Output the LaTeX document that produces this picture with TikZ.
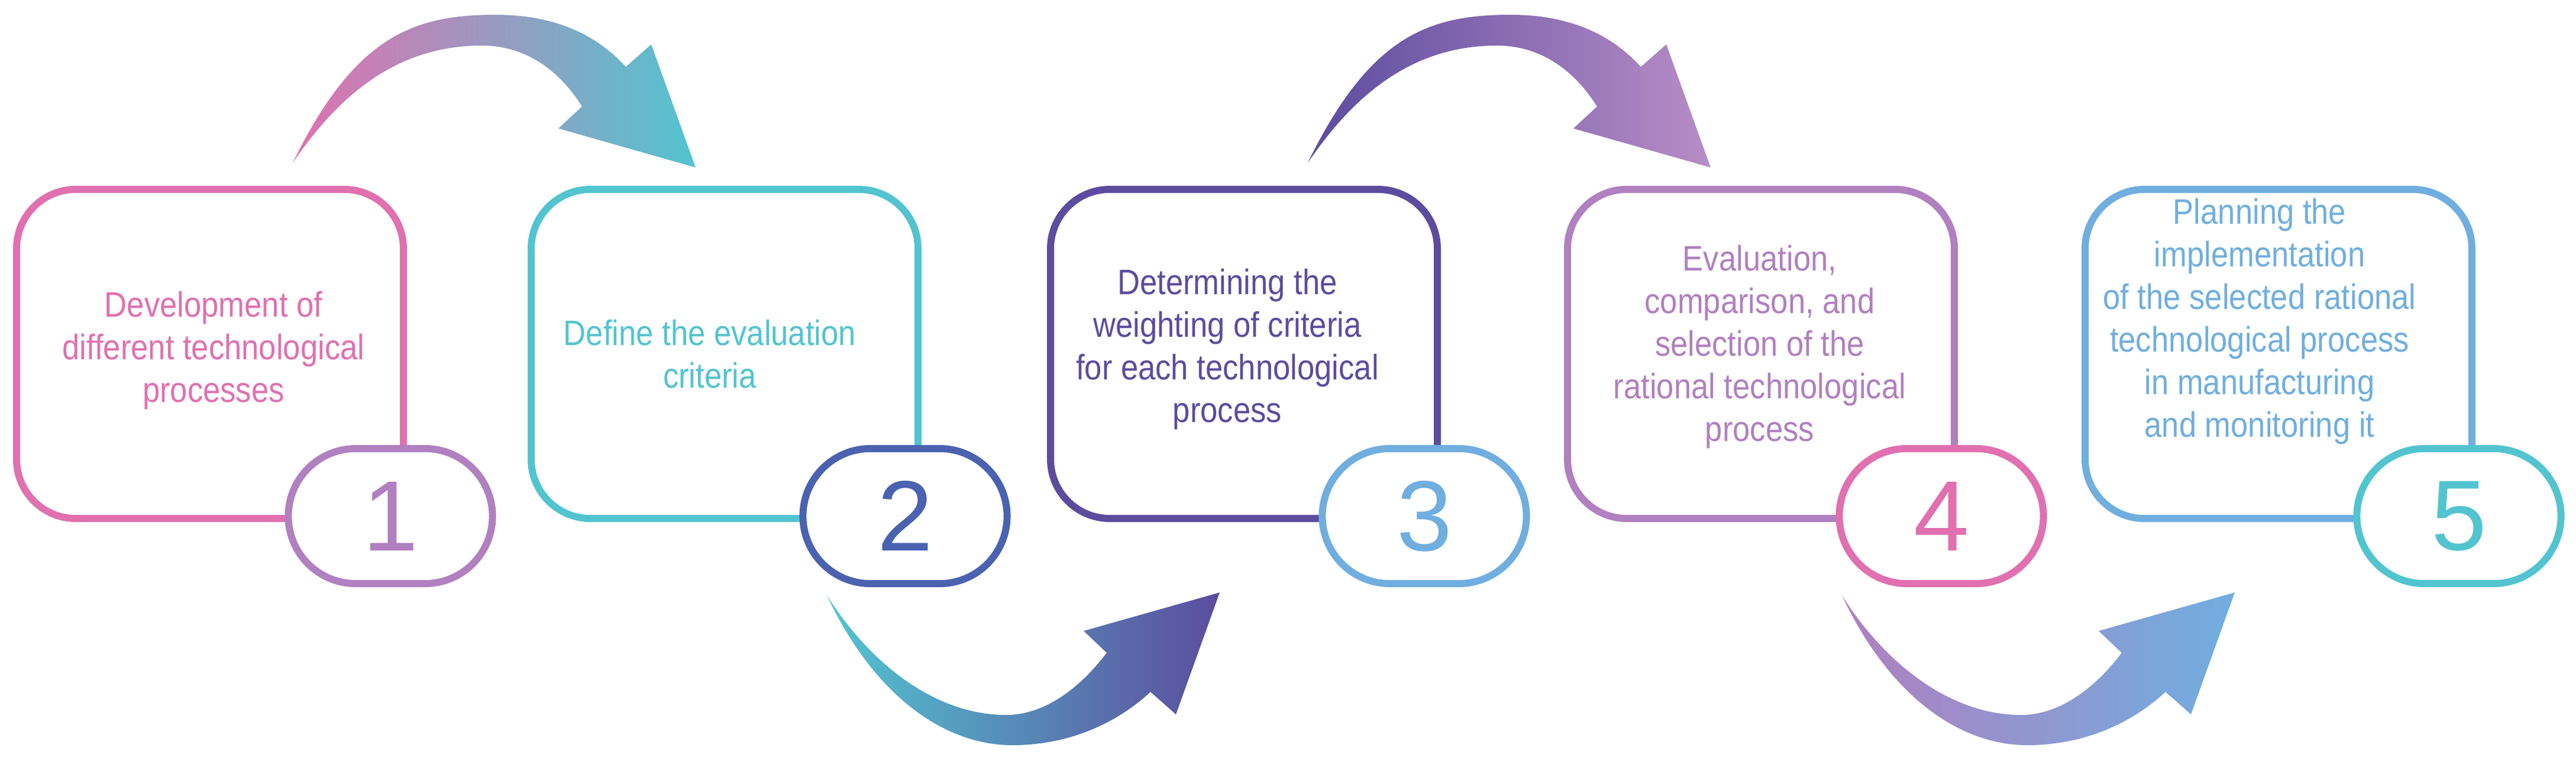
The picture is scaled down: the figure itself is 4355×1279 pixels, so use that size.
\documentclass[tikz,border=0pt]{standalone}
\usepackage{fontspec}
\setmainfont{Liberation Sans}[FakeStretch=0.88]
\newfontfamily\numfont{Liberation Sans}
\definecolor{cPink}{HTML}{E070B0}
\definecolor{cCyan}{HTML}{52C4D0}
\definecolor{cDeep}{HTML}{5C4C9E}
\definecolor{cLilac}{HTML}{B080C0}
\definecolor{cSky}{HTML}{70AEE0}
\definecolor{cBlue}{HTML}{4A62B0}
\tikzset{
  box/.style={draw=#1, line width=3.4pt, rounded corners=1cm, fill=white},
  pill/.style={draw=#1, line width=3.4pt, rounded corners=1.14cm, fill=white},
  txt/.style={text=#1, align=center, font=\fontsize{17}{20.5}\selectfont},
  num/.style={text=#1, font=\numfont\fontsize{48}{50}\selectfont},
}
\begin{document}
\begin{tikzpicture}[x=0.01cm,y=-0.01cm]
\useasboundingbox (0,0) rectangle (4355,1279);
% arrows
\def\toparrow{(495,275) .. controls (600,60) and (700,25) .. (838,25) .. controls (940,25) and (1010,60) .. (1058,113) -- (1101,75) -- (1176,283) -- (944,217) -- (984,180) .. controls (940,110) and (880,77) .. (815,77) .. controls (680,77) and (580,150) .. (495,275) -- cycle}
\def\botarrow{(1398,1006) .. controls (1480,1180) and (1600,1259) .. (1711,1259) .. controls (1810,1259) and (1890,1220) .. (1945,1169) -- (1988,1207) -- (2062,1001) -- (1832,1066) -- (1871,1103) .. controls (1820,1170) and (1760,1208) .. (1701,1208) .. controls (1580,1208) and (1470,1120) .. (1398,1006) -- cycle}
\shade[left color=cPink, right color=cCyan] \toparrow;
\shade[left color=cCyan, right color=cDeep] \botarrow;
\begin{scope}[xshift=17.15cm]
\shade[left color=cDeep, right color=cLilac!90!white] \toparrow;
\shade[left color=cLilac, right color=cSky] \botarrow;
\end{scope}
% boxes
\foreach \i/\bx/\bc/\pc in {1/28/cPink/cLilac, 2/898/cCyan/cBlue, 3/1776/cDeep/cSky, 4/2650/cLilac/cPink, 5/3525/cSky/cCyan}{
  \draw[box=\bc] (\bx,320) rectangle ++(654,556);
  \node[pill=\pc, minimum width=3.45cm, minimum height=2.28cm] (p\i) at (\bx+632,872) {};
  \node[num=\pc] (n\i) at (p\i) {\i};
}
\node[txt=cPink] (t1) at (361,592) {Development of\\different technological\\processes};
\node[txt=cCyan] (t2) at (1200,598) {Define the evaluation\\criteria};
\node[txt=cDeep] (t3) at (2075,590) {Determining the\\weighting of criteria\\for each technological\\process};
\node[txt=cLilac] (t4) at (2975,586) {Evaluation,\\comparison, and\\selection of the\\rational technological\\process};
\node[txt=cSky] (t5) at (3820,543) {Planning the\\implementation\\of the selected rational\\technological process\\in manufacturing\\and monitoring it};
\end{tikzpicture}
\end{document}
